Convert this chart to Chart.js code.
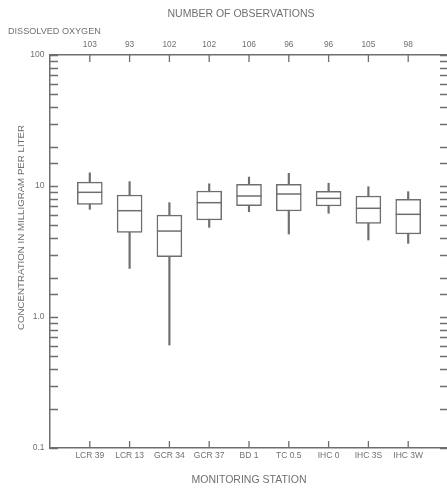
<!DOCTYPE html>
<html><head><meta charset="utf-8">
<script src="https://cdn.jsdelivr.net/npm/chart.js@4.4.1/dist/chart.umd.min.js"></script>
<style>html,body{margin:0;padding:0;background:#fff;overflow:hidden;width:447px;height:489px}canvas{display:block}</style>
</head><body>
<canvas id="c" width="474" height="489"></canvas>
<script>
const stations = ['LCR 39','LCR 13','GCR 34','GCR 37','BD 1','TC 0.5','IHC 0','IHC 3S','IHC 3W'];
const observations = [103,93,102,102,106,96,96,105,98];
const whiskerMax = [12.6,10.8,7.46,10.4,11.7,12.5,10.5,9.88,9.05];
const quartile3 = [10.7,8.54,6.0,9.16,10.3,10.3,9.11,8.39,7.91];
const medians = [8.95,6.48,4.53,7.46,8.39,8.69,8.05,6.76,6.08];
const quartile1 = [7.25,4.43,2.89,5.5,7.08,6.45,7.04,5.19,4.30];
const whiskerMin = [6.64,2.35,0.611,4.84,6.36,4.30,6.19,3.87,3.65];
const yTickValues = [0.1,1,10,100];
const yTickLabels = ['0.1','1.0','10','100'];

const LINE = '#6e6e6e';
const TEXT = '#707070';
Chart.defaults.font.family = "'Liberation Sans', Arial, sans-serif";
Chart.defaults.color = TEXT;

const boxData = stations.map((s,i)=>({x:i+1, y:[quartile1[i], quartile3[i]]}));
const whiskerData = stations.map((s,i)=>({x:i+1, y:[whiskerMin[i], whiskerMax[i]]}));
const medianData = stations.map((s,i)=>({x:i+1, y:medians[i]}));

function yLabel(v){
  for (let k=0;k<yTickValues.length;k++){
    if (Math.abs(Math.log10(v) - Math.log10(yTickValues[k])) < 1e-6) return yTickLabels[k];
  }
  return '';
}

const inwardTicks = {
  id: 'inwardTicks',
  afterDraw(chart, args, opts) {
    const {ctx, chartArea: a, scales} = chart;
    ctx.save();
    ctx.strokeStyle = LINE; ctx.lineWidth = 1.3;
    ctx.beginPath();
    const vert = (scale, x0, dir, len) => scale.ticks.forEach(t => {
      const y = Math.round(scale.getPixelForValue(t.value)) + 0.5;
      ctx.moveTo(x0, y); ctx.lineTo(x0 + dir*len, y);
    });
    const horiz = (scale, y0, dir, len) => scale.ticks.forEach(t => {
      const x = scale.getPixelForValue(t.value);
      ctx.moveTo(x, y0); ctx.lineTo(x, y0 + dir*len);
    });
    vert(scales.y, a.left, 1, 8);
    vert(scales.y2, a.right, -1, 8);
    horiz(scales.x, a.bottom, -1, 7);
    horiz(scales.x2, a.top, 1, 7);
    ctx.stroke();
    // rotated y-axis title
    const t = opts.yTitle;
    ctx.fillStyle = TEXT;
    ctx.font = t.size + "px 'Liberation Sans', Arial, sans-serif";
    ctx.textAlign = 'center'; ctx.textBaseline = 'middle';
    ctx.translate(t.x, t.y); ctx.rotate(-Math.PI/2);
    ctx.fillText(t.text, 0, 0);
    ctx.restore();
  }
};

const axisCommon = {
  grid:{display:false, drawTicks:false, drawOnChartArea:false, offset:false},
  border:{display:true, color:LINE, width:1.5}
};

new Chart(document.getElementById('c'), {
  type: 'bar',
  data: {
    datasets: [
      {type:'line', label:'Median', data: medianData, xAxisID:'x', yAxisID:'y', showLine:false,
       pointStyle:'line', pointRadius:12.5, pointHoverRadius:12.5, pointBorderColor:LINE, pointBorderWidth:1.5,
       borderColor:LINE, borderWidth:1.5, order:0},
      {type:'bar', label:'Interquartile range', data: boxData, xAxisID:'x', yAxisID:'y',
       backgroundColor:'#ffffff', borderColor:LINE, borderWidth:1.5, borderSkipped:false,
       barThickness:25, grouped:false, order:1},
      {type:'bar', label:'Range', data: whiskerData, xAxisID:'x', yAxisID:'y',
       backgroundColor:LINE, borderWidth:0, barThickness:1.5, grouped:false, order:2}
    ]
  },
  options: {
    responsive:false, animation:false, events:[],
    layout:{padding:{left:8, right:0, top:0, bottom:0}},
    plugins:{
      legend:{display:false}, tooltip:{enabled:false},
      title:{display:true, text:'NUMBER OF OBSERVATIONS', color:TEXT, font:{size:10.5, weight:'normal'}, padding:{top:8,bottom:0}},
      subtitle:{display:true, text:'DISSOLVED OXYGEN', align:'start', color:TEXT, font:{size:9.1, weight:'normal'}, padding:{top:5,bottom:0}},
      inwardTicks:{yTitle:{text:'CONCENTRATION IN MILLIGRAM PER LITER', x:21.5, y:227.5, size:9.7}}
    },
    scales:{
      x:{type:'linear', position:'bottom', min:0, max:10, offset:false, ...axisCommon,
         afterBuildTicks: s => { s.ticks = s.ticks.filter(t => t.value>=1 && t.value<=stations.length); },
         afterFit: s => { s.height = 41; },
         ticks:{stepSize:1, autoSkip:false, maxRotation:0, padding:2.4, color:TEXT, font:{size:8.5}, callback: v => stations[v-1] ?? ''},
         title:{display:true, text:'MONITORING STATION', color:TEXT, font:{size:10.5}, padding:{top:0,bottom:2.7}}},
      x2:{type:'linear', position:'top', min:0, max:10, offset:false, ...axisCommon,
         afterBuildTicks: s => { s.ticks = s.ticks.filter(t => t.value>=1 && t.value<=stations.length); },
         afterFit: s => { s.height = 18.5; },
         ticks:{stepSize:1, autoSkip:false, maxRotation:0, padding:5.8, color:TEXT, font:{size:8.4}, callback: v => (observations[v-1] ?? '') + ''}},
      y:{type:'logarithmic', position:'left', min:0.1, max:100, ...axisCommon,
         afterFit: s => { s.width = 42; },
         ticks:{autoSkip:false, padding:5.5, color:TEXT, font:{size:8.5}, callback: v => yLabel(v)}},
      y2:{type:'logarithmic', position:'right', min:0.1, max:100, ...axisCommon,
         afterFit: s => { s.width = 26; },
         ticks:{display:false, autoSkip:false}}
    }
  },
  plugins:[inwardTicks]
});
</script>
</body></html>
